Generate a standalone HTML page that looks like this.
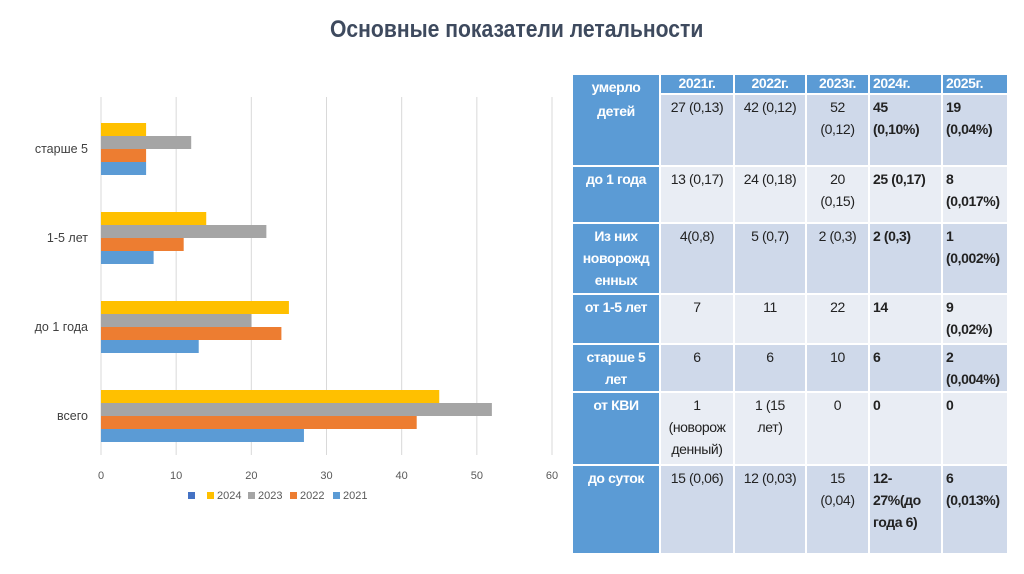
<!DOCTYPE html>
<html><head><meta charset="utf-8">
<style>
body{margin:0;width:1024px;height:574px;background:#fff;position:relative;overflow:hidden;font-family:"Liberation Sans",sans-serif;}
#title{position:absolute;left:330px;width:374px;top:16px;white-space:nowrap;font-size:24px;font-weight:bold;color:#3e4a5e;transform:scaleX(0.88);transform-origin:left top}
#chart{position:absolute;left:0;top:0}
table{position:absolute;left:571px;top:73px;width:436px;border-collapse:collapse;table-layout:fixed;font-size:14px;color:#222;letter-spacing:-0.4px}
td{border:2px solid #fff;vertical-align:top;padding:1px 3px 0;line-height:22px;overflow:hidden;white-space:nowrap}
td.h{background:#5b9bd5;color:#fff;font-weight:bold;text-align:center;line-height:22px}
tr.hr td{line-height:16px;padding:0 3px}
td.d{background:#cfd9ea;text-align:center}
td.l{background:#e9edf4;text-align:center}
td.b{font-weight:bold;text-align:left}
</style></head><body>
<div id="title">Основные показатели летальности</div>
<svg id="chart" width="570" height="574"></svg>
<table>
<colgroup><col style="width:88px"><col style="width:74px"><col style="width:72px"><col style="width:63px"><col style="width:73px"><col style="width:66px"></colgroup>
<tr class="hr" style="height:20px"><td class="h" rowspan="2" style="line-height:24px">умерло<br>детей</td><td class="h">2021г.</td><td class="h">2022г.</td><td class="h">2023г.</td><td class="h" style="text-align:left">2024г.</td><td class="h" style="text-align:left">2025г.</td></tr>
<tr style="height:72px"><td class="d">27 (0,13)</td><td class="d">42 (0,12)</td><td class="d">52<br>(0,12)</td><td class="d b">45<br>(0,10%)</td><td class="d b">19<br>(0,04%)</td></tr>
<tr style="height:57px"><td class="h">до 1 года</td><td class="l">13 (0,17)</td><td class="l">24 (0,18)</td><td class="l">20<br>(0,15)</td><td class="l b">25 (0,17)</td><td class="l b">8<br>(0,017%)</td></tr>
<tr style="height:71px"><td class="h">Из них<br>новорожд<br>енных</td><td class="d">4(0,8)</td><td class="d">5 (0,7)</td><td class="d">2 (0,3)</td><td class="d b">2 (0,3)</td><td class="d b">1<br>(0,002%)</td></tr>
<tr style="height:50px"><td class="h">от 1-5 лет</td><td class="l">7</td><td class="l">11</td><td class="l">22</td><td class="l b">14</td><td class="l b">9<br>(0,02%)</td></tr>
<tr style="height:48px"><td class="h">старше 5<br>лет</td><td class="d">6</td><td class="d">6</td><td class="d">10</td><td class="d b">6</td><td class="d b">2<br>(0,004%)</td></tr>
<tr style="height:73px"><td class="h">от КВИ</td><td class="l">1<br>(новорож<br>денный)</td><td class="l">1 (15<br>лет)</td><td class="l">0</td><td class="l b">0</td><td class="l b">0</td></tr>
<tr style="height:89px"><td class="h">до суток</td><td class="d">15 (0,06)</td><td class="d">12 (0,03)</td><td class="d">15<br>(0,04)</td><td class="d b">12-<br>27%(до<br>года 6)</td><td class="d b">6<br>(0,013%)</td></tr>
</table>
<script>
const categories=["старше 5","1-5 лет","до 1 года","всего"];
const seriesNames=["2024","2023","2022","2021"];
const s2024=[6,14,25,45];
const s2023=[12,22,20,52];
const s2022=[6,11,24,42];
const s2021=[6,7,13,27];
const ticks=[0,10,20,30,40,50,60];
const series=[s2024,s2023,s2022,s2021];
const colors=["#ffc000","#a5a5a5","#ed7d31","#5b9bd5"];
const NS="http://www.w3.org/2000/svg";
const svg=document.getElementById("chart");
const x0=101,xMax=552,yTop=97,yBot=455;
const xs=v=>x0+(v/60)*(xMax-x0);
const bandTop=104.5,band=89;
const barH=13;
function mk(t,a){const e=document.createElementNS(NS,t);for(const k in a)e.setAttribute(k,a[k]);svg.appendChild(e);return e;}
ticks.forEach(t=>{
 const g=mk("line",{x1:xs(t),x2:xs(t),y1:yTop,y2:yBot,stroke:"#d9d9d9","stroke-width":1});
 
 
 const l=mk("text",{x:xs(t),y:479,"text-anchor":"middle","font-size":11,fill:"#595959","font-family":"Liberation Sans,sans-serif"});
 l.textContent=t;
 
 
});
categories.forEach((c,i)=>{
 const yc=bandTop+band*i+band/2;
 const l=mk("text",{x:88,y:yc+4,"text-anchor":"end","font-size":12.5,fill:"#404040","font-family":"Liberation Sans,sans-serif"});
 l.textContent=c;
 
 
 series.forEach((s,j)=>{
  const r=mk("rect",{x:x0,y:yc-2*barH+j*barH,width:xs(s[i])-x0,height:barH,fill:colors[j]});
  
  
 });
});
const lg=[[188,"#4472c4",""],[207,colors[0],"2024"],[248,colors[1],"2023"],[290,colors[2],"2022"],[333,colors[3],"2021"]];
lg.forEach(e=>{
 const r=mk("rect",{x:e[0],y:492,width:7,height:7,fill:e[1]});
 
 
 if(e[2]){const t=mk("text",{x:e[0]+10,y:499,"font-size":11,fill:"#595959","font-family":"Liberation Sans,sans-serif"});t.textContent=e[2];
 
 }
});
</script>
</body></html>
